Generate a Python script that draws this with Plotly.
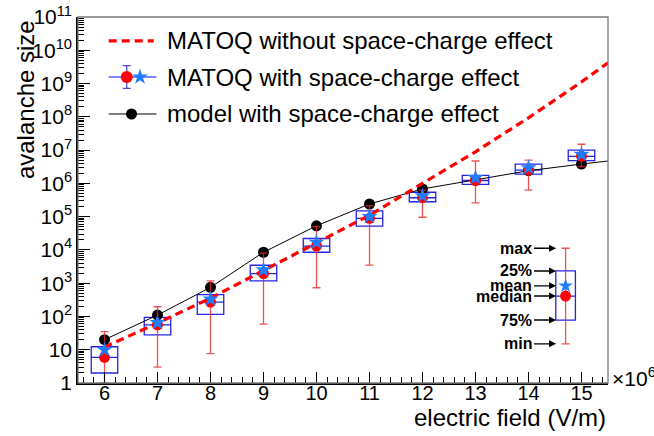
import numpy as np
import plotly.graph_objects as go

# ---------------- data ----------------
field = [6, 7, 8, 9, 10, 11, 12, 13, 14, 15]          # x 10^6 V/m
box_hi = [12.3, 94, 450, 3460, 22000, 148000, 540000, 1.75e6, 3.8e6, 1.0e7]
box_lo = [2.0, 28, 116, 1170, 8500, 52000, 280000, 9.3e5, 1.9e6, 4.8e6]
median = [5.9, 56, 270, 1950, 13000, 89000, 370000, 1.22e6, 2.5e6, 6.5e6]
mean = [10, 65, 330, 2500, 17000, 100000, 420000, 1.48e6, 2.95e6, 7.4e6]
vmax = [35, 196, 1170, 8000, 50000, 210000, 630000, 4.7e6, 5.0e6, 1.5e7]
vmin = [1.0, 3.0, 7.6, 59, 730, 3500, 96000, 2.6e5, 6.3e5, 3.2e6]

model_field = [6, 7, 8, 9, 10, 11, 12, 13, 14, 15, 15.5]
model_val = [20, 110, 750, 8500, 53000, 2.4e5, 6.8e5, 1.25e6, 2.4e6, 3.8e6, 4.7e6]

nosc_field = [6, 7, 8, 9, 10, 11, 12, 13, 14, 15, 15.5]
nosc_val = [12, 63, 355, 2400, 17000, 1.1e5, 1.0e6, 8.9e6, 9.3e7, 1.12e9, 4.2e9]

# key (explanation box) values
key_x = [14.7]
key_labels = ["max", "25%", "mean", "median", "75%", "min"]
key_max, key_hi, key_mean, key_med, key_lo, key_min = 11200, 2330, 830, 410, 78, 15

ytick_vals = [10 ** k for k in range(0, 12)]
ytick_text = ["1", "10"] + ["10<sup>%d</sup>" % k for k in range(2, 12)]
xtick_vals = [6, 7, 8, 9, 10, 11, 12, 13, 14, 15]

legend_names = ["MATOQ without space-charge effect",
                "MATOQ with space-charge effect",
                "model with space-charge effect"]

# ---------------- styles ----------------
FONT = "Liberation Sans, Arial, Helvetica, sans-serif"
RED = "#ff0000"
WHISK = "rgba(232,40,40,0.8)"
BLUE_BOX = "#2424e6"
STAR = "#1e7dff"

fig = go.Figure()

# model line and points
fig.add_trace(go.Scatter(x=model_field, y=model_val, mode="lines",
                         line=dict(color="black", width=1), showlegend=False))
fig.add_trace(go.Scatter(x=model_field[:10], y=model_val[:10], mode="markers",
                         marker=dict(color="black", size=11), showlegend=False))
# without space charge
fig.add_trace(go.Scatter(x=nosc_field, y=nosc_val, mode="lines",
                         line=dict(color=RED, width=3.2, dash="8px,5px"),
                         showlegend=False))
# boxes
fig.add_trace(go.Box(x=field, q1=box_lo, median=median, q3=box_hi,
                     lowerfence=box_lo, upperfence=box_hi, width=0.5,
                     line=dict(color=BLUE_BOX, width=1.3),
                     fillcolor="rgba(0,0,0,0)", boxpoints=False,
                     showlegend=False))
fig.add_trace(go.Box(x=key_x, q1=[key_lo], median=[key_med], q3=[key_hi],
                     lowerfence=[key_lo], upperfence=[key_hi], width=0.37,
                     line=dict(color=BLUE_BOX, width=1.3),
                     fillcolor="rgba(0,0,0,0)", boxpoints=False,
                     showlegend=False))
# whiskers + median dots
err_p = [a - m for a, m in zip(vmax, median)]
err_m = [m - b for m, b in zip(median, vmin)]
fig.add_trace(go.Scatter(x=field, y=median, mode="markers",
                         marker=dict(color=RED, size=11),
                         error_y=dict(type="data", symmetric=False, array=err_p,
                                      arrayminus=err_m, color=WHISK,
                                      thickness=1.3, width=4),
                         showlegend=False))
fig.add_trace(go.Scatter(x=key_x, y=[key_med], mode="markers",
                         marker=dict(color=RED, size=11),
                         error_y=dict(type="data", symmetric=False,
                                      array=[key_max - key_med],
                                      arrayminus=[key_med - key_min],
                                      color=WHISK, thickness=1.3, width=4),
                         showlegend=False))
# means
fig.add_trace(go.Scatter(x=field, y=mean, mode="markers",
                         marker=dict(color=STAR, size=12, symbol="star"),
                         showlegend=False))
fig.add_trace(go.Scatter(x=key_x, y=[key_mean], mode="markers",
                         marker=dict(color=STAR, size=11, symbol="star"),
                         showlegend=False))

# ---------------- hand-made legend (overlay axes in plot fractions) ----------------
LX0, LX1 = 0.058, 0.143
LY = [0.935, 0.836, 0.735]
fig.add_trace(go.Scatter(x=[LX0, LX1], y=[LY[0], LY[0]], mode="lines",
                         line=dict(color=RED, width=3.2, dash="8px,5px"),
                         xaxis="x2", yaxis="y2", showlegend=False))
fig.add_trace(go.Scatter(x=[LX0, LX1 + 0.005], y=[LY[1], LY[1]], mode="lines",
                         line=dict(color="#5a5aff", width=1.5),
                         xaxis="x2", yaxis="y2", showlegend=False))
fig.add_trace(go.Scatter(x=[0.092], y=[LY[1]], mode="markers",
                         marker=dict(color=RED, size=12),
                         error_y=dict(type="constant", value=0.031, color="#4a4ae0",
                                      thickness=1.3, width=4),
                         xaxis="x2", yaxis="y2", showlegend=False))
fig.add_trace(go.Scatter(x=[0.117], y=[LY[1]], mode="markers",
                         marker=dict(color=STAR, size=12, symbol="star"),
                         xaxis="x2", yaxis="y2", showlegend=False))
fig.add_trace(go.Scatter(x=[LX0, LX1 + 0.005], y=[LY[2], LY[2]], mode="lines",
                         line=dict(color="black", width=1),
                         xaxis="x2", yaxis="y2", showlegend=False))
fig.add_trace(go.Scatter(x=[0.101], y=[LY[2]], mode="markers",
                         marker=dict(color="black", size=11),
                         xaxis="x2", yaxis="y2", showlegend=False))

annotations = []
for name, ly in zip(legend_names, LY):
    annotations.append(dict(x=0.164, y=ly, xref="paper", yref="paper",
                            text=name, showarrow=False, xanchor="left",
                            yanchor="middle",
                            font=dict(family=FONT, size=24, color="black")))

# key labels with arrows
key_vals = [key_max, key_hi, key_mean, key_med, key_lo, key_min]
for lab, v in zip(key_labels, key_vals):
    annotations.append(dict(x=14.52, y=float(np.log10(v)), xref="x", yref="y",
                            text="<b>%s</b>" % lab, showarrow=True,
                            ax=-22, ay=0, axref="pixel", ayref="pixel",
                            xanchor="right", yanchor="middle",
                            arrowhead=2, arrowsize=1, arrowwidth=1.4,
                            arrowcolor="black", standoff=0,
                            font=dict(family=FONT, size=16, color="black")))

# axis titles and exponent
annotations.append(dict(x=1.0, y=-0.095, xref="paper", yref="paper",
                        text="electric field (V/m)", showarrow=False,
                        xanchor="right", yanchor="middle",
                        font=dict(family=FONT, size=24, color="black")))
annotations.append(dict(x=-0.1, y=0.773, xref="paper", yref="paper",
                        text="avalanche size", showarrow=False, textangle=-90,
                        xanchor="center", yanchor="middle",
                        font=dict(family=FONT, size=24, color="black")))
annotations.append(dict(x=1.004, y=0.017, xref="paper", yref="paper",
                        text="×10<sup>6</sup>", showarrow=False,
                        xanchor="left", yanchor="middle",
                        font=dict(family=FONT, size=21, color="black")))

fig.update_layout(
    width=654, height=436,
    margin=dict(l=78, r=46, t=17, b=53, autoexpand=False),
    paper_bgcolor="white", plot_bgcolor="white",
    font=dict(family=FONT, size=21, color="black"),
    annotations=annotations,
    shapes=[dict(type="rect", xref="paper", yref="paper", x0=0, x1=1, y0=0, y1=1,
                 line=dict(color="#7a7a7a", width=1.3), layer="above")],
    xaxis=dict(range=[5.5, 15.5], tickmode="array", tickvals=xtick_vals,
               automargin=False, ticklabelstandoff=-9,
               ticks="inside", ticklen=11, tickwidth=1, tickcolor="black",
               showline=True, linecolor="black", linewidth=1.5,
               showgrid=False, zeroline=False,
               tickfont=dict(family=FONT, size=20, color="black"),
               minor=dict(dtick=0.2, tick0=0, ticks="inside", ticklen=6,
                          tickcolor="black", showgrid=False)),
    yaxis=dict(type="log", range=[0, 11], tickmode="array",
               tickvals=ytick_vals, ticktext=ytick_text, automargin=False,
               ticks="inside", ticklen=12, tickwidth=1, tickcolor="black",
               showline=True, linecolor="black", linewidth=1.5,
               showgrid=False, zeroline=False,
               tickfont=dict(family=FONT, size=21, color="black"),
               minor=dict(dtick="D1", ticks="inside", ticklen=6,
                          tickcolor="black", showgrid=False)),
    xaxis2=dict(range=[0, 1], overlaying="x", visible=False, automargin=False),
    yaxis2=dict(range=[0, 1], overlaying="y", visible=False, automargin=False),
    showlegend=False,
)

fig.write_html("out.html", config={"displayModeBar": False},
               post_script="document.body.style.margin='0';"
                           "document.body.style.overflow='hidden';")
